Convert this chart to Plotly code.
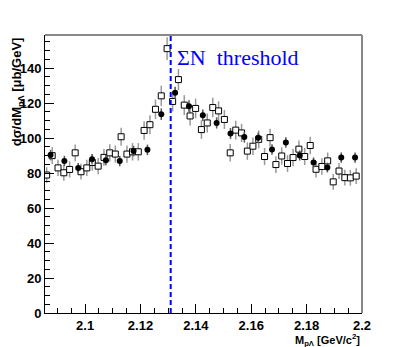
import plotly.graph_objects as go

# open squares (fine bins)
sq_x = [2.0861, 2.0881, 2.0902, 2.0923, 2.0944, 2.0964, 2.0985, 2.1006, 2.1026, 2.1047,
        2.1068, 2.1089, 2.1109, 2.1130, 2.1151, 2.1171, 2.1192, 2.1213, 2.1234, 2.1254,
        2.1275, 2.1296, 2.1316, 2.1337, 2.1358, 2.1379, 2.1399, 2.1420, 2.1441, 2.1461,
        2.1482, 2.1503, 2.1524, 2.1544, 2.1565, 2.1586, 2.1606, 2.1627, 2.1648, 2.1668,
        2.1689, 2.1710, 2.1731, 2.1751, 2.1772, 2.1793, 2.1813, 2.1834, 2.1855, 2.1876,
        2.1896, 2.1917, 2.1938, 2.1958, 2.1979]
sq_y = [78.9, 90.0, 83.0, 80.2, 82.1, 91.6, 80.8, 83.0, 86.1, 84.0,
        89.0, 91.6, 90.9, 100.8, 90.9, 92.2, 92.2, 104.4, 107.7, 116.5,
        124.2, 151.2, 121.0, 133.5, 118.9, 112.7, 117.0, 104.9, 108.7, 117.5,
        115.6, 110.7, 91.6, 104.6, 103.0, 92.6, 95.4, 99.3, 89.5, 100.3,
        84.9, 89.8, 85.5, 88.9, 93.7, 89.5, 95.8, 82.2, 83.8, 87.0,
        75.0, 81.2, 77.4, 77.3, 78.3]
sq_err = [4.5, 4.8, 4.6, 4.5, 4.6, 4.8, 4.5, 4.6, 4.7, 4.6,
          4.8, 4.9, 4.9, 5.2, 4.9, 5.0, 5.0, 5.3, 5.4, 5.6,
          5.8, 6.5, 5.7, 6.0, 5.7, 5.5, 5.6, 5.3, 5.4, 5.6,
          5.5, 5.4, 5.0, 5.3, 5.2, 5.0, 5.0, 5.1, 4.9, 5.1,
          4.8, 4.9, 4.8, 4.9, 5.0, 4.9, 5.0, 4.7, 4.7, 4.8,
          4.5, 4.6, 4.5, 4.5, 4.5]

# filled circles (5 MeV bins)
ci_x = [2.0875, 2.0925, 2.0975, 2.1025, 2.1075, 2.1125, 2.1175, 2.1225, 2.1275, 2.1325,
        2.1375, 2.1425, 2.1475, 2.1525, 2.1575, 2.1625, 2.1675, 2.1725, 2.1775, 2.1825,
        2.1875, 2.1925, 2.1975]
ci_y = [90.3, 87.0, 83.0, 88.0, 87.4, 86.9, 92.6, 93.3, 113.7, 125.9,
        118.3, 113.1, 108.7, 102.7, 100.6, 100.2, 93.5, 97.5, 90.1, 86.1,
        83.2, 88.9, 88.9]
ci_err = [3.0, 2.9, 2.8, 2.9, 2.9, 2.9, 3.0, 3.0, 3.3, 3.5,
          3.4, 3.3, 3.2, 3.1, 3.1, 3.1, 3.0, 3.0, 2.9, 2.9,
          2.8, 2.9, 2.9]

threshold = 2.1309

fig = go.Figure()
fig.add_trace(go.Scatter(x=sq_x, y=sq_y, mode="markers",
                         marker=dict(symbol="square", size=6, color="white",
                                     line=dict(color="black", width=1)),
                         error_y=dict(type="data", array=sq_err, width=0,
                                      thickness=1.5, color="#999999"),
                         showlegend=False))
fig.add_trace(go.Scatter(x=ci_x, y=ci_y, mode="markers",
                         marker=dict(symbol="circle", size=6, color="black"),
                         error_y=dict(type="data", array=ci_err, width=0,
                                      thickness=1.5, color="#555555"),
                         showlegend=False))

# threshold line
fig.add_shape(type="line", x0=threshold, x1=threshold, y0=0, y1=1,
              xref="x", yref="paper",
              line=dict(color="blue", width=2, dash="5px,3px"))
# grey frame top / right
fig.add_shape(type="line", x0=0, x1=1, y0=1, y1=1, xref="paper", yref="paper",
              line=dict(color="#888888", width=2))
fig.add_shape(type="line", x0=1, x1=1, y0=0, y1=1, xref="paper", yref="paper",
              line=dict(color="#888888", width=2))

fig.add_annotation(x=2.1324, y=146.3, xref="x", yref="y", xanchor="left", yanchor="middle",
                   text="ΣN\u00a0\u00a0threshold", showarrow=False,
                   font=dict(family="Liberation Serif", size=22, color="blue"))
fig.add_annotation(x=-0.086, y=1.0, xref="paper", yref="paper", xanchor="center", yanchor="top",
                   textangle=-90, showarrow=False,
                   text="<b>dσ/dM<sub>pΛ</sub> [μb/GeV]</b>",
                   font=dict(family="Liberation Sans", size=13, color="black"))
fig.add_annotation(x=1.0, y=-0.097, xref="paper", yref="paper", xanchor="right", yanchor="middle",
                   showarrow=False,
                   text="<b>M<sub>pΛ</sub> [GeV/c<sup>2</sup>]</b>",
                   font=dict(family="Liberation Sans", size=11, color="black"))

axis_font = dict(family="Liberation Sans", size=13, color="black", weight="bold")
fig.update_xaxes(range=[2.0855, 2.2], dtick=0.02, tick0=2.1, ticks="inside", ticklen=9,
                 tickcolor="black", showline=True, linecolor="black", linewidth=1,
                 showgrid=False, zeroline=False, tickfont=axis_font,
                 minor=dict(ticks="inside", ticklen=5, dtick=0.005, tick0=2.1,
                            tickcolor="black", showgrid=False))
fig.update_yaxes(range=[0, 159], dtick=20, tick0=0, ticks="inside", ticklen=9,
                 tickcolor="black", showline=True, linecolor="black", linewidth=1,
                 showgrid=False, zeroline=False, tickfont=axis_font,
                 minor=dict(ticks="inside", ticklen=5, dtick=5, tick0=0,
                            tickcolor="black", showgrid=False))
# page body adds 8px, so the figure is 8px smaller than the window
fig.update_layout(width=395, height=339, margin=dict(l=32, r=41, t=27, b=34),
                  paper_bgcolor="white", plot_bgcolor="white")

fig.write_html("out.html")
